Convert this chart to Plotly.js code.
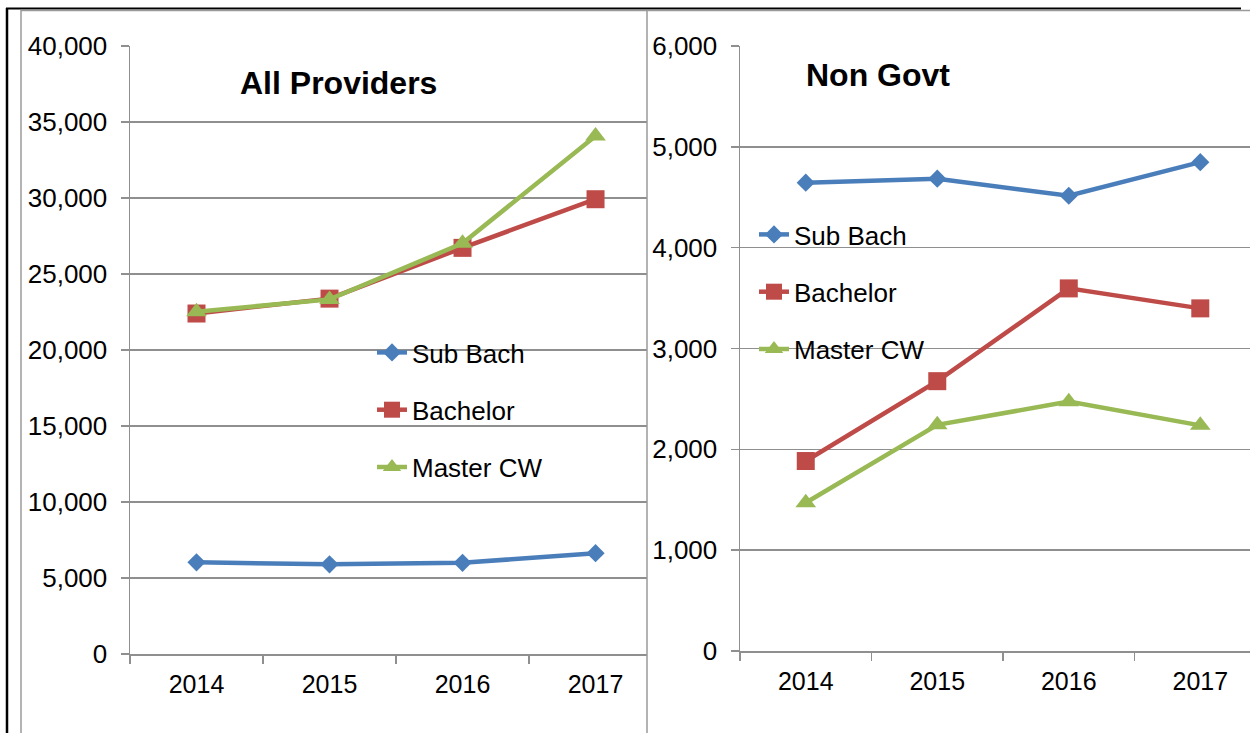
<!DOCTYPE html>
<html>
<head>
<meta charset="utf-8">
<script src="https://cdn.plot.ly/plotly-3.0.1.min.js"></script>
<style>html,body{margin:0;padding:0;background:#fff;}#chart{width:1250px;height:733px;}</style>
</head>
<body>
<div id="chart"></div>
<script>
// ---- data ----
const years = ['2014', '2015', '2016', '2017'];
const seriesNames = ['Sub Bach', 'Bachelor', 'Master CW'];
const allSubBach = [6030, 5900, 6000, 6630];
const allBachelor = [22400, 23380, 26720, 29920];
const allMasterCW = [22520, 23330, 27020, 34080];
const ngSubBach = [4645, 4684, 4515, 4848];
const ngBachelor = [1884, 2676, 3596, 3398];
const ngMasterCW = [1470, 2243, 2473, 2238];
const titleLeft = 'All Providers';
const titleRight = 'Non Govt';

const colors = ['#4A7EBB', '#BE4B48', '#98B954'];
const symbols = ['diamond', 'square', 'triangle-up'];
const sizes = [14, 18, 18];
const W = 1250, H = 733;
const px = v => v / W;
const py = v => 1 - v / H;
const gridC = '#8f8f8f';
const FONT = 'Liberation Sans, Arial, sans-serif';

function mk(name, i, y, xa, ya, leg) {
  return {
    type: 'scatter', mode: 'lines+markers', name: name, x: years, y: y,
    xaxis: xa, yaxis: ya, legend: leg, legendgroup: leg + name,
    line: {color: colors[i], width: 4.5},
    marker: {symbol: symbols[i], size: sizes[i], color: colors[i]},
    hoverinfo: 'x+y+name'
  };
}

const data = [
  mk(seriesNames[0], 0, allSubBach, 'x', 'y', 'legend'),
  mk(seriesNames[1], 1, allBachelor, 'x', 'y', 'legend'),
  mk(seriesNames[2], 2, allMasterCW, 'x', 'y', 'legend'),
  mk(seriesNames[0], 0, ngSubBach, 'x2', 'y2', 'legend2'),
  mk(seriesNames[1], 1, ngBachelor, 'x2', 'y2', 'legend2'),
  mk(seriesNames[2], 2, ngMasterCW, 'x2', 'y2', 'legend2')
];

const xCommon = {
  type: 'category', showgrid: false, zeroline: false,
  showline: true, linecolor: gridC, linewidth: 1.5,
  ticks: 'outside', ticklen: 8, tickcolor: gridC, tickwidth: 1.5,
  tickson: 'boundaries', tickfont: {size: 25, color: '#000', family: FONT},
  ticklabelstandoff: 7, fixedrange: true
};
const yCommon = {
  showgrid: true, gridcolor: gridC, gridwidth: 1.5, zeroline: false,
  showline: true, linecolor: gridC, linewidth: 1.5,
  ticks: 'outside', ticklen: 8, tickcolor: gridC, tickwidth: 1.5,
  tickformat: ',', tickfont: {size: 26, color: '#000', family: FONT},
  ticklabelstandoff: 8, fixedrange: true
};

const layout = {
  width: W, height: H,
  margin: {l: 0, r: 0, t: 0, b: 0, pad: 0},
  paper_bgcolor: '#fff', plot_bgcolor: 'rgba(0,0,0,0)',
  font: {family: FONT, color: '#000', size: 25},
  xaxis: Object.assign({}, xCommon, {domain: [px(130), px(647)], range: [-0.5, 3.387], anchor: 'y'}),
  yaxis: Object.assign({}, yCommon, {domain: [py(654), py(46)], range: [0, 40000], dtick: 5000, anchor: 'x'}),
  xaxis2: Object.assign({}, xCommon, {domain: [px(740), 1], range: [-0.5, 3.378], anchor: 'y2'}),
  yaxis2: Object.assign({}, yCommon, {domain: [py(651), py(46)], range: [0, 6000], dtick: 1000, anchor: 'x2'}),
  legend: {
    x: px(372), y: py(329), xanchor: 'left', yanchor: 'top',
    bgcolor: 'rgba(0,0,0,0)', font: {size: 26, family: FONT, color: '#000'},
    tracegroupgap: 20.5, itemsizing: 'trace'
  },
  legend2: {
    x: px(754), y: py(211), xanchor: 'left', yanchor: 'top',
    bgcolor: 'rgba(0,0,0,0)', font: {size: 26, family: FONT, color: '#000'},
    tracegroupgap: 20.5, itemsizing: 'trace'
  },
  annotations: [
    {text: '<b>' + titleLeft + '</b>', xref: 'paper', yref: 'paper', x: px(238), y: py(83),
     xanchor: 'left', yanchor: 'middle', showarrow: false, font: {size: 32, family: FONT, color: '#000'}},
    {text: '<b>' + titleRight + '</b>', xref: 'paper', yref: 'paper', x: px(804), y: py(75),
     xanchor: 'left', yanchor: 'middle', showarrow: false, font: {size: 32, family: FONT, color: '#000'}}
  ],
  shapes: [
    // outer black frame
    {type: 'line', xref: 'paper', yref: 'paper', x0: px(7), x1: px(7), y0: py(8), y1: 0, line: {color: '#000', width: 2.5}},
    {type: 'line', xref: 'paper', yref: 'paper', x0: px(6), x1: px(1241), y0: py(8.5), y1: py(8.5), line: {color: '#000', width: 2}},
    // gray chart borders
    {type: 'line', xref: 'paper', yref: 'paper', x0: px(21), x1: px(21), y0: py(10), y1: 0, line: {color: '#9a9a9a', width: 1.5}},
    {type: 'line', xref: 'paper', yref: 'paper', x0: px(21), x1: 1, y0: py(10.5), y1: py(10.5), line: {color: '#9a9a9a', width: 1.5}},
    {type: 'line', xref: 'paper', yref: 'paper', x0: px(647), x1: px(647), y0: py(10), y1: 0, line: {color: '#9a9a9a', width: 1.5}}
  ]
};

Plotly.newPlot('chart', data, layout, {displayModeBar: false, staticPlot: true});
</script>
</body>
</html>
